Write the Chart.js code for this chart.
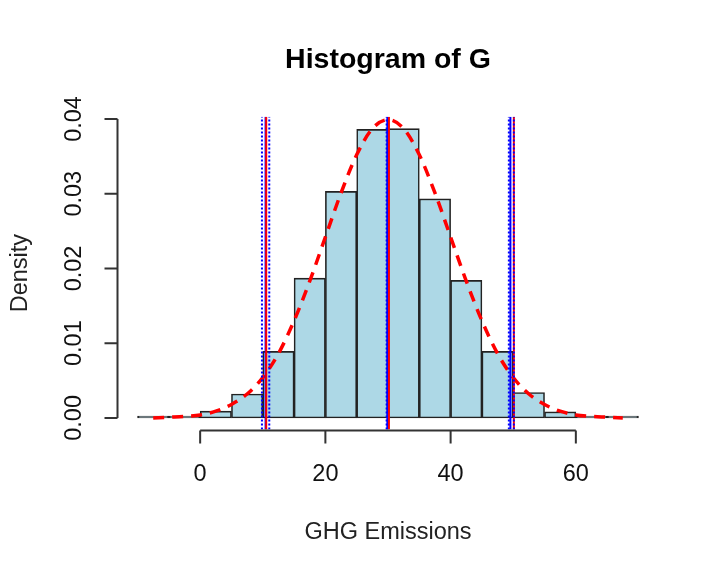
<!DOCTYPE html>
<html>
<head>
<meta charset="utf-8">
<title>Histogram of G</title>
<script src="https://cdn.jsdelivr.net/npm/chart.js@4.4.1/dist/chart.umd.min.js"></script>
<style>
    html, body { margin: 0; padding: 0; background: #fff; }
    #wrap { width: 722px; height: 577px; }
</style>
</head>
<body>
<div id="wrap"><canvas id="histChart" width="722" height="577"></canvas></div>
<script>
// Histogram bins (midpoints) and densities
const binMids = [-7.5, -2.5, 2.5, 7.5, 12.5, 17.5, 22.5, 27.5, 32.5, 37.5, 42.5, 47.5, 52.5, 57.5, 62.5, 67.5];
const binDensity = [0.00025, 0.00025, 0.0009, 0.0032, 0.0089, 0.0187, 0.0303, 0.0386, 0.0387, 0.0293, 0.0184, 0.0089, 0.0034, 0.0008, 0.00025, 0.00025];

// Red dashed density curve
const curveX = [-7.5, -5, -2.5, 0, 2.5, 5, 7.5, 10, 12.5, 15, 17.5, 20, 22.5, 25, 27.5, 30,
    32.5, 35, 37.5, 40, 42.5, 45, 47.5, 50, 52.5, 55, 57.5, 60, 62.5, 65, 67.5];
const curveY = [0.0000, 0.0001, 0.0002, 0.0004, 0.0009, 0.0018, 0.0032, 0.0054, 0.0086, 0.0130,
    0.0183, 0.0242, 0.0301, 0.0352, 0.0387, 0.0399, 0.0387, 0.0352, 0.0301, 0.0242, 0.0183, 0.0130, 0.0086,
    0.0054, 0.0032, 0.0018, 0.0009, 0.0004, 0.0002, 0.0001, 0.0000];

// Vertical reference lines
const redLines = [10.55, 30.15, 50.1];
const blueSolidLines = [10.45, 29.9, 49.55];
const blueDottedLines = [9.87, 11.04, 29.78, 49.3, 50.1];

// Axis ticks
const xTicks = [0, 20, 40, 60];
const yTicks = [0, 0.01, 0.02, 0.03, 0.04];
const yTickLabels = ["0.00", "0.01", "0.02", "0.03", "0.04"];

// R-like plot range (usr)
const xRange = [-13.2, 73.2];
const yRange = [-0.00155, 0.0403];

function vline(x, color, dash, order) {
    return {
        type: "line",
        data: [{ x: x, y: yRange[0] }, { x: x, y: yRange[1] }],
        borderColor: color,
        borderWidth: 2,
        borderDash: dash,
        pointRadius: 0,
        fill: false,
        order: order,
    };
}

// Draw R style axes, labels and title
const baseAxes = {
    id: "baseAxes",
    afterDraw(chart) {
        const ctx = chart.ctx;
        const xs = chart.scales.x;
        const ys = chart.scales.y;
        const area = chart.chartArea;
        const axisY = area.bottom + 1;
        const axisX = area.left;

        ctx.save();
        ctx.strokeStyle = "#333";
        ctx.lineWidth = 2;
        ctx.fillStyle = "#111";

        // x axis
        ctx.beginPath();
        ctx.moveTo(xs.getPixelForValue(xTicks[0]), axisY);
        ctx.lineTo(xs.getPixelForValue(xTicks[xTicks.length - 1]), axisY);
        xTicks.forEach((t) => {
            const px = xs.getPixelForValue(t);
            ctx.moveTo(px, axisY);
            ctx.lineTo(px, axisY + 13);
        });
        ctx.stroke();

        ctx.font = "23.5px 'Liberation Sans', Arial, sans-serif";
        ctx.textAlign = "center";
        ctx.textBaseline = "middle";
        xTicks.forEach((t) => {
            ctx.fillText(String(t), xs.getPixelForValue(t), 475);
        });

        // y axis
        ctx.beginPath();
        ctx.moveTo(axisX, ys.getPixelForValue(yTicks[0]));
        ctx.lineTo(axisX, ys.getPixelForValue(yTicks[yTicks.length - 1]));
        yTicks.forEach((t) => {
            const py = ys.getPixelForValue(t);
            ctx.moveTo(axisX, py);
            ctx.lineTo(axisX - 13, py);
        });
        ctx.stroke();

        yTicks.forEach((t, i) => {
            ctx.save();
            ctx.translate(75, ys.getPixelForValue(t));
            ctx.rotate(-Math.PI / 2);
            ctx.fillText(yTickLabels[i], 0, 0);
            ctx.restore();
        });

        // axis titles
        const midX = (area.left + area.right) / 2;
        const midY = (area.top + area.bottom) / 2;
        ctx.fillStyle = "#222";
        ctx.fillText("GHG Emissions", midX, 533);
        ctx.save();
        ctx.translate(21, midY);
        ctx.rotate(-Math.PI / 2);
        ctx.fillText("Density", 0, 0);
        ctx.restore();

        // main title
        ctx.fillStyle = "#000";
        ctx.font = "bold 28.5px 'Liberation Sans', Arial, sans-serif";
        ctx.fillText("Histogram of G", midX, 60);
        ctx.restore();
    },
};

const datasets = [
    {
        type: "bar",
        data: binMids.map((m, i) => ({ x: m, y: binDensity[i] })),
        backgroundColor: "#add8e6",
        borderColor: "#222",
        borderWidth: 1.6,
        borderSkipped: false,
        barPercentage: 1,
        categoryPercentage: 1,
        order: 10,
    },
    {
        type: "line",
        data: curveX.map((x, i) => ({ x: x, y: curveY[i] })),
        borderColor: "#ff0000",
        borderWidth: 3.5,
        borderDash: [11, 8],
        pointRadius: 0,
        cubicInterpolationMode: "monotone",
        fill: false,
        order: 9,
    },
];
blueSolidLines.forEach((x) => datasets.push(vline(x, "#0000ff", [], 8)));
redLines.forEach((x) => datasets.push(vline(x, "#ff0000", [], 7)));
blueDottedLines.forEach((x) => datasets.push(vline(x, "#0000ff", [2, 2], 6)));

new Chart(document.getElementById("histChart"), {
    type: "bar",
    data: { datasets: datasets },
    options: {
        responsive: false,
        animation: false,
        layout: {
            padding: { left: 117.5, right: 63.5, top: 116.7, bottom: 147.5 },
        },
        plugins: {
            legend: { display: false },
            tooltip: { enabled: false },
        },
        scales: {
            x: {
                type: "linear",
                min: xRange[0],
                max: xRange[1],
                offset: false,
                display: false,
            },
            y: {
                type: "linear",
                min: yRange[0],
                max: yRange[1],
                display: false,
            },
        },
    },
    plugins: [baseAxes],
});
</script>
</body>
</html>
